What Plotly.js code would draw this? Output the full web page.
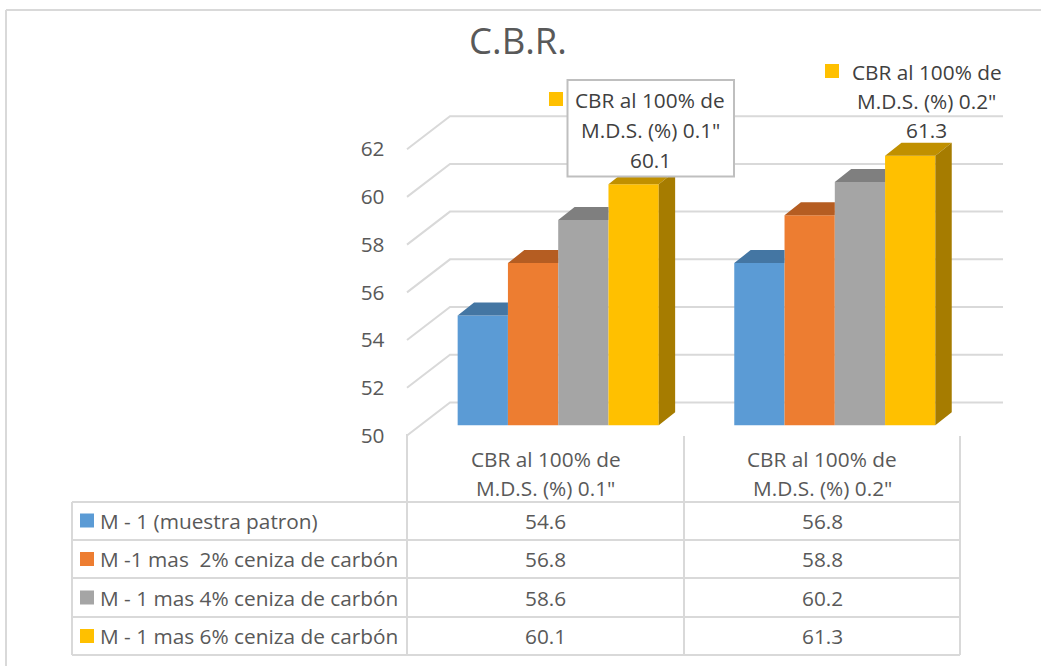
<!DOCTYPE html>
<html>
<head>
<meta charset="utf-8">
<script src="https://cdn.plot.ly/plotly-3.0.1.min.js"></script>
<style>html,body{margin:0;padding:0;background:#fff;overflow:hidden}#chart{width:1041px;height:666px}</style>
</head>
<body>
<div id="chart"></div>
<script>
// ---- data ----
const chartTitle = 'C.B.R.';
const categoryLines = [['CBR al 100% de', 'M.D.S. (%) 0.1"'], ['CBR al 100% de', 'M.D.S. (%) 0.2"']];
const seriesNames = ['M - 1 (muestra patron)', 'M -1 mas  2% ceniza de carbón', 'M - 1 mas 4% ceniza de carbón', 'M - 1 mas 6% ceniza de carbón'];
const valuesM1 = [54.6, 56.8];
const valuesM2 = [56.8, 58.8];
const valuesM4 = [58.6, 60.2];
const valuesM6 = [60.1, 61.3];
const axisTicks = [50, 52, 54, 56, 58, 60, 62];

// ---- styles ----
const W = 1041, H = 666;
const FONT = '"Open Sans", Lato, sans-serif';
const frontColors = ['#5B9BD5', '#ED7D31', '#A5A5A5', '#FFC000'];
const topColors = ['#4476A3', '#B55D22', '#7F7F7F', '#C09000'];
const sideColor = '#A67C00';
const gridColor = '#D9D9D9';
const textColor = '#595959';
const labelColor = '#404040';
const FS = 20.8;

// ---- geometry of the fake 3D projection, in axis units ----
const allValues = [valuesM1, valuesM2, valuesM4, valuesM6];
const catPx = 276.6, x0Px = 558.2;            // category spacing, centre of first cluster
const unitPx = 23.86, barBasePx = 425.3, wallBasePx = 435.5;
const BASE = 50;
const xRange = [(0 - x0Px) / catPx, (W - x0Px) / catPx];
const yBarRange = [BASE - (H - barBasePx) / unitPx, BASE + barBasePx / unitPx];
const yWallRange = [BASE - (H - wallBasePx) / unitPx, BASE + wallBasePx / unitPx];
const bargap = 0.273, groupW = 1 - bargap, barW = groupW / 4;
const dx = 16.4 / catPx, dy = 13 / unitPx;
const wallDx = 43 / catPx, wallDy = 33 / unitPx;
const wallLeft = (407 - x0Px) / catPx, wallRight = (1003 - x0Px) / catPx;
const xs = [0, 1];
const px = x => x / W, py = y => 1 - y / H;

// ---- traces ----
const traces = [];
allValues.forEach((vals, i) => {
  traces.push({type: 'bar', x: xs, y: vals.map(v => v - BASE), base: BASE, name: seriesNames[i], marker: {color: frontColors[i], line: {width: 0}}, hoverinfo: 'skip', xaxis: 'x', yaxis: 'y'});
});
allValues.forEach((vals, i) => {
  const tx = [], ty = [];
  xs.forEach((c, k) => {
    const L = c - groupW / 2 + i * barW, R = L + barW, v = vals[k];
    const backR = i === 3 ? R + dx : R;
    tx.push(L, L + dx, backR, R, L, null);
    ty.push(v, v + dy, v + dy, v, v, null);
  });
  traces.push({type: 'scatter', mode: 'lines', x: tx, y: ty, fill: 'toself', fillcolor: topColors[i], line: {width: 0, color: topColors[i]}, hoverinfo: 'skip', xaxis: 'x', yaxis: 'y'});
});
{
  const tx = [], ty = [];
  xs.forEach((c, k) => {
    const R = c - groupW / 2 + 4 * barW, v = valuesM6[k];
    tx.push(R, R + dx, R + dx, R, R, null);
    ty.push(BASE, BASE + dy, v + dy, v, BASE, null);
  });
  traces.push({type: 'scatter', mode: 'lines', x: tx, y: ty, fill: 'toself', fillcolor: sideColor, line: {width: 0, color: sideColor}, hoverinfo: 'skip', xaxis: 'x', yaxis: 'y'});
}
// invisible trace that brings the tick axis to life
traces.push({type: 'scatter', mode: 'none', x: [wallLeft], y: [BASE], hoverinfo: 'skip', xaxis: 'x', yaxis: 'y2'});

// ---- shapes ----
const lineStyle = {color: gridColor, width: 2};
const hline = (x1, x2, y) => ({type: 'line', xref: 'paper', yref: 'paper', x0: px(x1), x1: px(x2), y0: py(y), y1: py(y), line: lineStyle, layer: 'above'});
const vline = (x, y1, y2) => ({type: 'line', xref: 'paper', yref: 'paper', x0: px(x), x1: px(x), y0: py(y1), y1: py(y2), line: lineStyle, layer: 'above'});
const square = (x, y, size, color) => ({type: 'rect', xref: 'paper', yref: 'paper', x0: px(x), x1: px(x + size), y0: py(y), y1: py(y + size), fillcolor: color, line: {width: 0}, layer: 'above'});

const shapes = [];
// back wall
axisTicks.forEach(v => {
  shapes.push({type: 'path', xref: 'x', yref: 'y2', layer: 'below',
    path: `M ${wallLeft} ${v} L ${wallLeft + wallDx} ${v + wallDy} L ${wallRight} ${v + wallDy}`,
    line: lineStyle});
});
// outer frame
shapes.push(hline(6, 1041, 10), vline(6, 10, 666));
// table
[502, 540, 578, 617, 655].forEach(y => shapes.push(hline(72, 960, y)));
shapes.push(vline(72, 502, 655), vline(407, 434, 655), vline(684, 436, 655), vline(960, 436, 655));
// legend keys in the table
const rowY = [520.5, 559, 597.5, 636];
frontColors.forEach((c, i) => shapes.push(square(80, rowY[i] - 7, 14, c)));

// ---- annotations ----
const note = (text, x, y, size, color, anchor) => ({text, xref: 'paper', yref: 'paper', x: px(x), y: py(y), xanchor: anchor || 'center', yanchor: 'middle', showarrow: false, font: {family: FONT, size: size || FS, color: color || textColor}});
const annotations = [];
const colCentres = [545.5, 822];
categoryLines.forEach((lines, c) => {
  annotations.push(note(lines[0], colCentres[c], 458.5), note(lines[1], colCentres[c], 488));
  allValues.forEach((vals, i) => annotations.push(note(vals[c].toFixed(1), colCentres[c], rowY[i])));
});
seriesNames.forEach((n, i) => annotations.push(note(n.replace(/ {2}/, '\u00A0 '), 98, rowY[i], FS, textColor, 'left')));

// callout 1 (boxed) and callout 2
shapes.push({type: 'rect', xref: 'paper', yref: 'paper', x0: px(567.5), x1: px(734), y0: py(80), y1: py(176.5), fillcolor: '#FFFFFF', line: {color: '#BFBFBF', width: 2}, layer: 'above'});
shapes.push(square(549, 92, 14, frontColors[3]), square(825, 64, 14, frontColors[3]));
[[categoryLines[0][0], 100], [categoryLines[0][1], 130], [valuesM6[0].toFixed(1), 160]].forEach(([t, y]) => annotations.push(note(t, 650, y, FS, labelColor)));
[[categoryLines[1][0], 71.5], [categoryLines[1][1], 100.5], [valuesM6[1].toFixed(1), 130]].forEach(([t, y]) => annotations.push(note(t, 926.5, y, FS, labelColor)));

const layout = {
  width: W, height: H,
  margin: {l: 0, r: 0, t: 0, b: 0},
  paper_bgcolor: '#FFFFFF', plot_bgcolor: 'rgba(0,0,0,0)',
  showlegend: false,
  title: {text: chartTitle, x: 518 / W, xanchor: 'center', y: 1 - 41 / H, yanchor: 'middle', font: {family: FONT, size: 36.5, color: textColor}},
  barmode: 'group', bargap, bargroupgap: 0,
  xaxis: {type: 'linear', range: xRange, visible: false, fixedrange: true},
  yaxis: {range: yBarRange, visible: false, fixedrange: true},
  yaxis2: {range: yWallRange, overlaying: 'y', anchor: 'free', position: 384.5 / W, side: 'left',
    tickmode: 'array', tickvals: axisTicks, ticktext: axisTicks.map(String), ticks: '',
    showgrid: false, zeroline: false, showline: false, fixedrange: true,
    tickfont: {family: FONT, size: FS, color: textColor}},
  shapes, annotations
};
Plotly.newPlot('chart', traces, layout, {displayModeBar: false, staticPlot: true});
</script>
</body>
</html>
